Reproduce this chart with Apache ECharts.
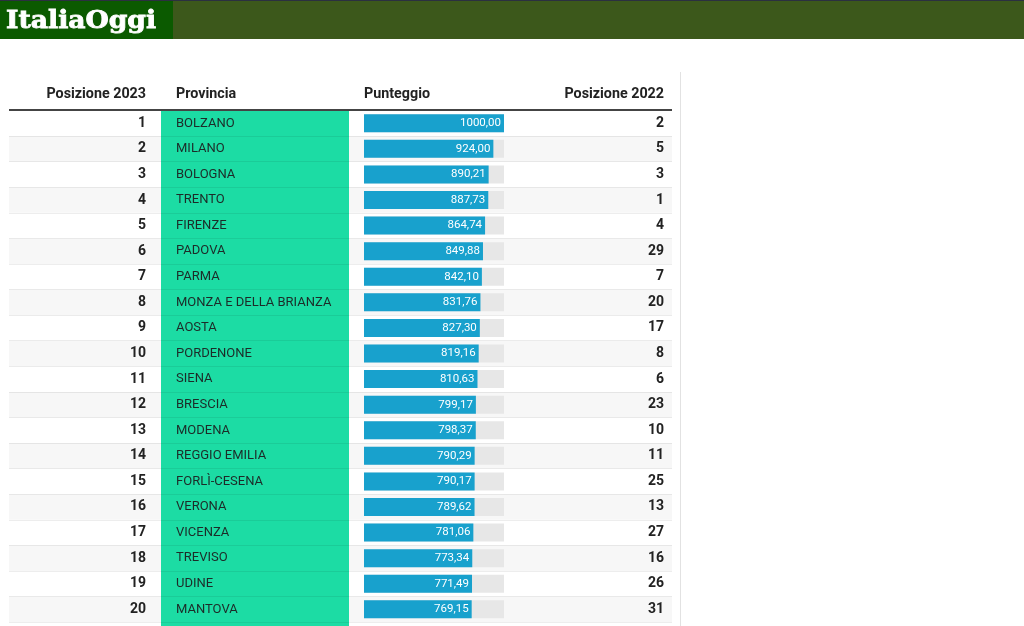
<!DOCTYPE html>
<html>
<head>
<meta charset="utf-8">
<title>ItaliaOggi</title>
<script src="https://cdn.jsdelivr.net/npm/echarts@6/dist/echarts.min.js"></script>
<style>
html,body{margin:0;padding:0;background:#fff;overflow:hidden;}
#main{width:1024px;height:626px;}
</style>
</head>
<body>
<div id="main"></div>
<script>
var positions2023 = ['1','2','3','4','5','6','7','8','9','10','11','12','13','14','15','16','17','18','19','20'];
var provinces = ['BOLZANO','MILANO','BOLOGNA','TRENTO','FIRENZE','PADOVA','PARMA','MONZA E DELLA BRIANZA','AOSTA','PORDENONE','SIENA','BRESCIA','MODENA','REGGIO EMILIA','FORLÌ-CESENA','VERONA','VICENZA','TREVISO','UDINE','MANTOVA'];
var scores = [1000.00,924.00,890.21,887.73,864.74,849.88,842.10,831.76,827.30,819.16,810.63,799.17,798.37,790.29,790.17,789.62,781.06,773.34,771.49,769.15];
var positions2022 = ['2','5','3','1','4','29','7','20','17','8','6','23','10','11','25','13','27','16','26','31'];
var stripes = [0,1,0,1,0,1,0,1,0,1,0,1,0,1,0,1,0,1,0,1];

var rowTop = 110.5;
var rowsHeight = 25.58*20;
var headerFont = 'bold 14.3px Roboto';

function fmt(v){
    return v.toFixed(2).replace('.',',');
}

var myChart = echarts.init(document.getElementById('main'),null,{renderer:'canvas'});
myChart.setOption({
    animation:false,
    backgroundColor:'#fff',
    grid:[
        {left:364,width:140,top:rowTop,height:rowsHeight},
        {left:9,width:663,top:rowTop,height:rowsHeight}
    ],
    xAxis:[
        {gridIndex:0,type:'value',min:0,max:1000,show:false},
        {gridIndex:1,type:'value',min:0,max:1,show:false}
    ],
    yAxis:[
        {gridIndex:0,type:'category',inverse:true,data:positions2023,position:'left',z:3,
            axisLine:{show:false},axisTick:{show:false},splitLine:{show:false},
            axisLabel:{interval:0,margin:218,align:'right',padding:[3,0,0,0],color:'#222',fontFamily:'Roboto',fontSize:14,fontWeight:'bold'}},
        {gridIndex:0,type:'category',inverse:true,data:provinces,position:'left',z:3,
            axisLine:{show:false},axisTick:{show:false},splitLine:{show:false},
            axisLabel:{interval:0,margin:188,align:'left',padding:[2,0,0,0],color:'#1d2b28',fontFamily:'Roboto',fontSize:13}},
        {gridIndex:0,type:'category',inverse:true,data:positions2022,position:'right',z:3,
            axisLine:{show:false},axisTick:{show:false},splitLine:{show:false},
            axisLabel:{interval:0,margin:160,align:'right',padding:[3,0,0,0],color:'#222',fontFamily:'Roboto',fontSize:14,fontWeight:'bold'}},
        {gridIndex:1,type:'category',inverse:true,data:positions2023,z:2,
            axisLine:{show:false},axisTick:{show:false},axisLabel:{show:false},
            splitLine:{show:true,interval:0,lineStyle:{color:'rgba(0,0,0,0.07)',width:1}}}
    ],
    series:[
        {
            name:'righe',type:'bar',xAxisIndex:1,yAxisIndex:3,data:stripes,
            barWidth:'100%',silent:true,z:1,
            itemStyle:{color:'#f7f7f7'}
        },
        {
            name:'Punteggio',type:'bar',xAxisIndex:0,yAxisIndex:0,data:scores,
            barWidth:18,z:4,
            showBackground:true,
            backgroundStyle:{color:'#e7e7e7'},
            itemStyle:{color:'#18a1cd'},
            label:{show:true,position:'insideRight',distance:3,color:'#fff',
                fontFamily:'Roboto',fontSize:11.5,
                formatter:function(p){return fmt(p.value);}}
        }
    ],
    graphic:[
        // testata
        {type:'rect',z:5,shape:{x:0,y:0,width:1024,height:39},style:{fill:'#3c581b'}},
        {type:'rect',z:5,shape:{x:0,y:0,width:173,height:39},style:{fill:'#0b5a00'}},
        {type:'rect',z:5,shape:{x:0,y:0,width:1024,height:1},style:{fill:'#2b3040'}},
        {type:'text',z:6,x:6,y:22,scaleX:1.11,style:{text:'ItaliaOggi',fill:'#fff',stroke:'#fff',lineWidth:0.8,
            font:'bold 24px "DejaVu Serif"',textVerticalAlign:'middle'}},
        // colonna provincia e righe della tabella
        {type:'rect',z:1.5,shape:{x:161,y:rowTop,width:188,height:626-rowTop},style:{fill:'#1cdca4'}},
        {type:'rect',z:5,shape:{x:9,y:109,width:663,height:2},style:{fill:'#444'}},
        {type:'rect',z:5,shape:{x:680,y:72,width:1,height:554},style:{fill:'#e2e2e2'}},
        // intestazioni
        {type:'text',z:6,x:146,y:94,style:{text:'Posizione 2023',fill:'#222',font:headerFont,textAlign:'right',textVerticalAlign:'middle'}},
        {type:'text',z:6,x:176,y:94,style:{text:'Provincia',fill:'#222',font:headerFont,textVerticalAlign:'middle'}},
        {type:'text',z:6,x:364,y:94,style:{text:'Punteggio',fill:'#222',font:headerFont,textVerticalAlign:'middle'}},
        {type:'text',z:6,x:664,y:94,style:{text:'Posizione 2022',fill:'#222',font:headerFont,textAlign:'right',textVerticalAlign:'middle'}}
    ]
});
</script>
</body>
</html>
